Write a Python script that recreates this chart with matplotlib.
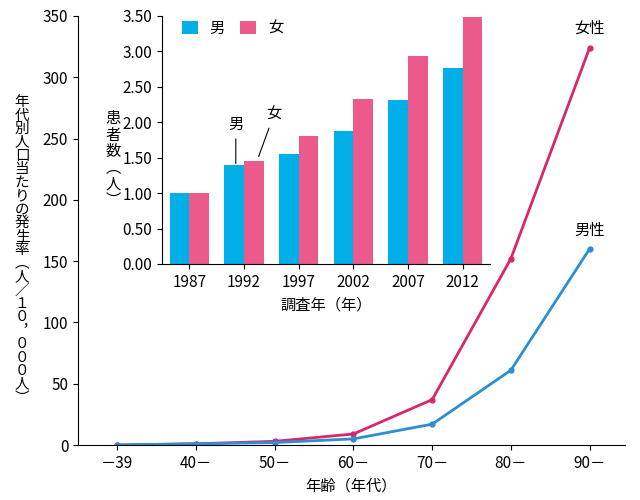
import matplotlib.pyplot as plt

plt.rcParams['font.family'] = ['Noto Sans CJK JP', 'DejaVu Sans']

ages = ['－39', '40－', '50－', '60－', '70－', '80－', '90－']
female = [0, 1, 3, 9, 37, 152, 324]
male = [0, 1, 2, 5, 17, 61, 160]

years = ['1987', '1992', '1997', '2002', '2007', '2012']
bar_m = [1.00, 1.40, 1.55, 1.88, 2.32, 2.77]
bar_f = [1.00, 1.45, 1.80, 2.33, 2.93, 3.48]

c_fl = '#d9276c'
c_ml = '#2b8fd0'
c_fb = '#ec5a8c'
c_mb = '#00aee8'

fig = plt.figure(figsize=(6.4, 5.0), dpi=100)
ax = fig.add_axes([78/640, 55/500, 547/640, 429/500])
x = range(len(ages))
ax.plot(x, female, color=c_fl, lw=2, marker='o', ms=3.5)
ax.plot(x, male, color=c_ml, lw=2, marker='o', ms=3.5)
ax.set_xlim(-0.5, 6.45)
ax.set_ylim(0, 350)
ax.set_yticks(range(0, 351, 50))
ax.set_xticks(list(x))
ax.set_xticklabels(ages, fontsize=11)
ax.tick_params(labelsize=11)
for s in ['top', 'right']:
    ax.spines[s].set_visible(False)
ax.set_xlabel('年齢（年代）', fontsize=11)
ax.text(6, 333, '女性', ha='center', va='bottom', fontsize=11)
ax.text(6, 168, '男性', ha='center', va='bottom', fontsize=11)
label = '年代別人口当たりの発生率︵人／１０︐０００人︶'
fig.text(22/640, 0.5, '\n'.join(label), ha='center', va='center', fontsize=10.5, linespacing=0.95)

ins = fig.add_axes([162/640, 236/500, 328/640, 248/500])
bx = range(len(years))
w = 0.36
ins.bar([i - w/2 for i in bx], bar_m, w, color=c_mb, label='男')
ins.bar([i + w/2 for i in bx], bar_f, w, color=c_fb, label='女')
ins.set_ylim(0, 3.5)
ins.set_yticks([i * 0.5 for i in range(8)])
ins.set_yticklabels(['%.2f' % (i * 0.5) for i in range(8)])
ins.set_xticks(list(bx))
ins.set_xticklabels(years)
ins.set_xlim(-0.5, 5.5)
ins.tick_params(labelsize=11)
ins.patch.set_alpha(0)
for s in ['top', 'right']:
    ins.spines[s].set_visible(False)
ins.set_xlabel('調査年（年）', fontsize=11)
ins.text(-0.15, 0.42, '\n'.join('患者数︵人︶'), transform=ins.transAxes, ha='center', va='center',
         fontsize=11, linespacing=0.95)
ins.legend(loc='upper left', bbox_to_anchor=(0.02, 1.04), ncol=2, frameon=False, fontsize=11,
           handlelength=1, handleheight=1, columnspacing=1)
ins.annotate('男', xy=(0.85, 1.38), xytext=(0.85, 1.9), fontsize=11, ha='center',
             arrowprops=dict(arrowstyle='-', lw=0.8))
ins.annotate('女', xy=(1.25, 1.48), xytext=(1.55, 2.05), fontsize=11, ha='center',
             arrowprops=dict(arrowstyle='-', lw=0.8))

fig.savefig('out.png')
